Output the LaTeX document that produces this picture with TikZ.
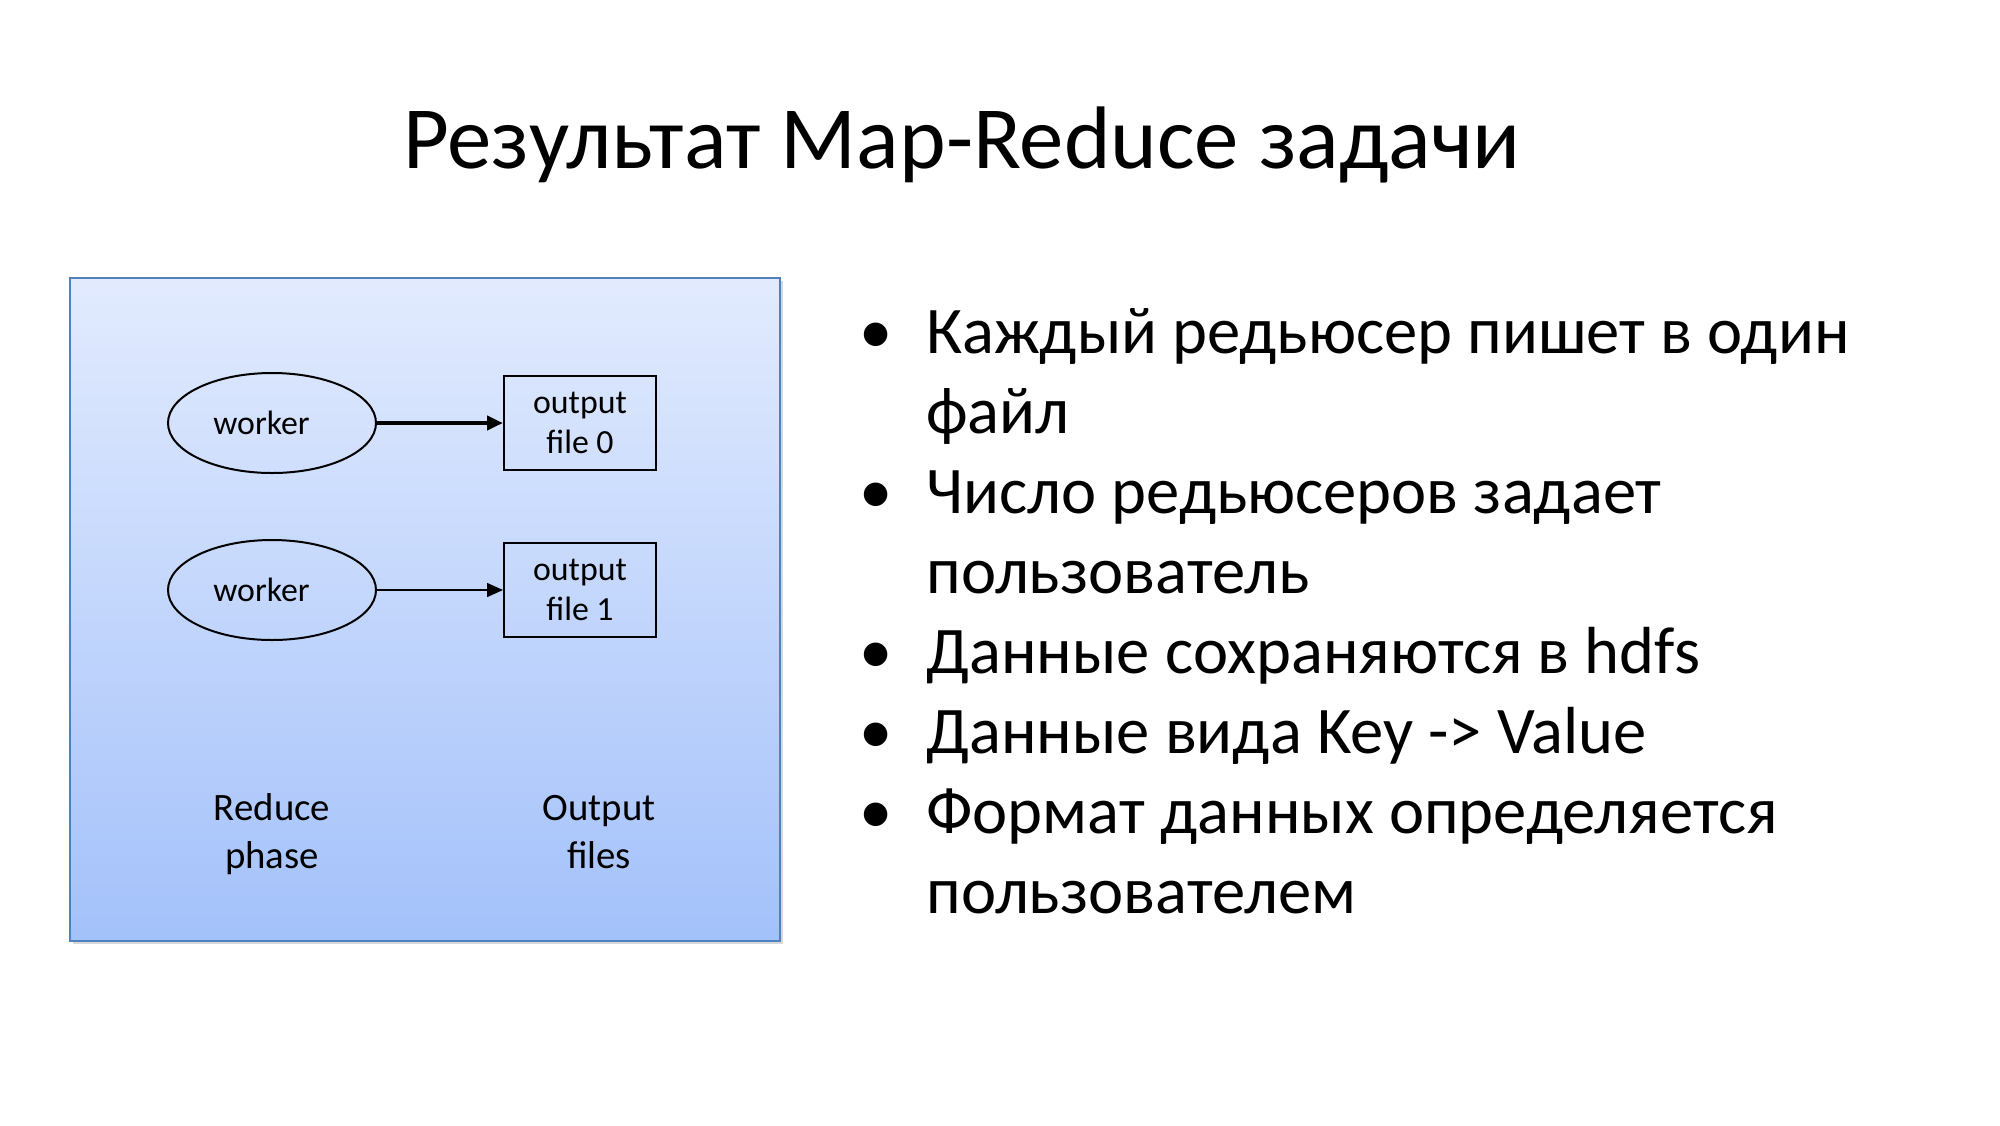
\documentclass[tikz,border=0pt]{standalone}
\usepackage{fontspec}
\setmainfont{Carlito}
\usetikzlibrary{shapes.geometric,arrows.meta,shadows}
\definecolor{boxtop}{HTML}{E2EBFE}
\definecolor{boxbot}{HTML}{A3C1FA}
\definecolor{boxline}{HTML}{4F81BD}
\tikzset{
  panel/.style={draw=boxline, line width=1pt, top color=boxtop, bottom color=boxbot,
    drop shadow={shadow xshift=1.5pt, shadow yshift=-1.5pt, opacity=0.3, fill=gray}},
  worker/.style={draw, ellipse, line width=1pt, minimum width=104pt, minimum height=50pt,
    inner sep=0pt, font=\fontsize{16.9}{19}\selectfont},
  outfile/.style={draw, rectangle, line width=1pt, minimum width=76pt, minimum height=47pt,
    inner sep=0pt, align=center, font=\fontsize{16.9}{20}\selectfont},
  lbl/.style={anchor=base, align=center, inner sep=0pt, font=\fontsize{19.4}{23.7}\selectfont},
  bul/.style={anchor=base west, align=left, inner sep=0pt, font=\fontsize{33.3}{40}\selectfont},
  dot/.style={anchor=base, inner sep=0pt, font=\fontsize{33.3}{40}\selectfont},
  ttl/.style={anchor=base, inner sep=0pt, font=\fontsize{44.4}{52}\selectfont},
  thickarrow/.style={line width=2pt, -{Triangle[length=8pt,width=7pt]}},
  thinarrow/.style={line width=0.7pt, -{Triangle[length=8pt,width=7pt]}}
}
\begin{document}
\begin{tikzpicture}[x=0.5pt,y=-0.5pt]
\useasboundingbox (0,0) rectangle (2000,1125);
\fill[white] (0,0) rectangle (2000,1125);

\node[ttl] (title) at (962,168) {Результат Map-Reduce задачи};

\path[panel] (70,278) rectangle (780,941);

\node[worker] (w0) at (272,423) {\raisebox{-1.5pt}{worker}\rule{10.5pt}{0pt}};
\node[outfile] (f0) at (580,423) {output\\file 0};
\node[worker] (w1) at (272,590) {\raisebox{-1.5pt}{worker}\rule{10.5pt}{0pt}};
\node[outfile] (f1) at (580,590) {output\\file 1};
\draw[thickarrow] (w0.east) -- (f0.west);
\draw[thinarrow] (w1.east) -- (f1.west);

\node[lbl] (rp) at (272,868) {Reduce\\phase};
\node[lbl] (of) at (599,868) {Output\\files};

\node[dot] (d1) at (876,353) {•};
\node[bul] (b1) at (926,433) {Каждый редьюсер пишет в один\\файл};
\node[dot] (d2) at (876,513) {•};
\node[bul] (b2) at (926,593) {Число редьюсеров задает\\пользователь};
\node[dot] (d3) at (876,673) {•};
\node[bul] (b3) at (926,673) {Данные сохраняются в hdfs};
\node[dot] (d4) at (876,753) {•};
\node[bul] (b4) at (926,753) {Данные вида Key -> Value};
\node[dot] (d5) at (876,833) {•};
\node[bul] (b5) at (926,913) {Формат данных определяется\\пользователем};
\end{tikzpicture}
\end{document}
